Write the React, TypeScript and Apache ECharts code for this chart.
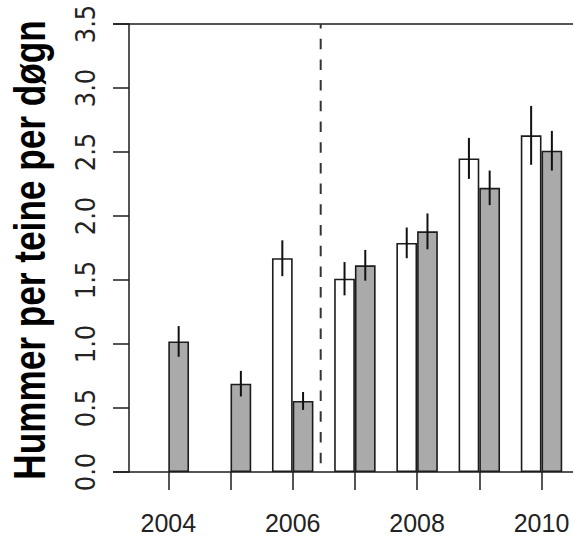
import React, { useEffect, useRef } from "react";
import * as echarts from "echarts";

// ---- data ----
const years = ["2004", "2005", "2006", "2007", "2008", "2009", "2010"];
const whiteValues: (number | null)[] = [null, null, 1.67, 1.51, 1.79, 2.45, 2.63];
const whiteErr: (number | null)[] = [null, null, 0.14, 0.13, 0.12, 0.16, 0.23];
const grayValues: number[] = [1.02, 0.69, 0.555, 1.615, 1.88, 2.22, 2.51];
const grayErr: number[] = [0.12, 0.1, 0.07, 0.12, 0.14, 0.135, 0.155];
const yMin = 0;
const yMax = 3.5;
const yStep = 0.5;
const dividerPosition = 2.45; // between 2006 and 2007 (category index units)
const yTitle = "Hummer per teine per døgn";

// ---- layout ----
const W = 573;
const H = 537;
const lineLeft = 113;
const axisX = 129;
const catLeft = 137.2;
const catWidth = 435.4;
const plotTop = 24;
const plotBottomY = 472;
const band = catWidth / years.length;

export default function App() {
  const ref = useRef<HTMLDivElement>(null);
  useEffect(() => {
    if (!ref.current) return;
    const chart = echarts.init(ref.current, undefined, { renderer: "svg" });

    const errData: number[][] = [];
    years.forEach((_, i) => {
      const wv = whiteValues[i];
      const we = whiteErr[i];
      if (wv != null && we != null) errData.push([i, wv - we, wv + we, -1]);
      errData.push([i, grayValues[i] - grayErr[i], grayValues[i] + grayErr[i], 1]);
    });

    const bMin = (lineLeft - catLeft) / band - 0.5;
    const bMax = (W - catLeft) / band - 0.5;
    const ink = "#1c1c1c";

    chart.setOption({
      animation: false,
      backgroundColor: "#ffffff",
      grid: [
        { left: catLeft, width: catWidth, top: plotTop, height: plotBottomY - plotTop },
        { left: lineLeft, right: 0, top: plotTop, height: plotBottomY - plotTop },
      ],
      xAxis: [
        {
          type: "category",
          gridIndex: 0,
          data: years,
          axisLine: { show: false },
          axisTick: { show: true, alignWithLabel: true, interval: 0, length: 18, lineStyle: { color: ink, width: 1.5 } },
          axisLabel: {
            interval: 1,
            margin: 38,
            fontFamily: "'Liberation Sans', Arial, sans-serif",
            fontSize: 25,
            color: "#222",
          },
          splitLine: { show: false },
        },
        {
          type: "value",
          gridIndex: 1,
          min: bMin,
          max: bMax,
          show: false,
          splitLine: { show: false },
        },
      ],
      yAxis: [
        {
          type: "value",
          gridIndex: 0,
          min: yMin,
          max: yMax,
          interval: yStep,
          offset: catLeft - axisX,
          axisLine: { show: true, lineStyle: { color: ink, width: 1.5 } },
          axisTick: { show: true, length: 16, lineStyle: { color: ink, width: 1.5 } },
          axisLabel: {
            rotate: 90,
            margin: 30,
            fontFamily: "'Liberation Sans Narrow', 'DejaVu Sans Condensed', 'Liberation Sans', sans-serif",
            fontSize: 27,
            color: "#222",
            formatter: (v: number) => v.toFixed(1),
          },
          splitLine: { show: false },
        },
        {
          type: "value",
          gridIndex: 1,
          min: yMin,
          max: yMax,
          interval: yMax - yMin,
          axisLine: { show: false },
          axisTick: { show: false },
          axisLabel: { show: false },
          splitLine: { show: true, lineStyle: { color: ink, width: 1.5 } },
        },
      ],
      series: [
        {
          type: "bar",
          xAxisIndex: 0,
          yAxisIndex: 0,
          data: whiteValues.map((v) => (v == null ? "-" : v)),
          barWidth: band / 3,
          barGap: "0%",
          itemStyle: { color: "#ffffff", borderColor: ink, borderWidth: 1.6 },
        },
        {
          type: "bar",
          xAxisIndex: 0,
          yAxisIndex: 0,
          data: grayValues,
          barWidth: band / 3,
          barGap: "0%",
          itemStyle: { color: "#aaaaaa", borderColor: ink, borderWidth: 1.6 },
        },
        {
          type: "custom",
          xAxisIndex: 0,
          yAxisIndex: 0,
          data: errData,
          z: 5,
          renderItem: (params: any, api: any) => {
            const idx = api.value(0);
            const lo = api.value(1);
            const hi = api.value(2);
            const side = api.value(3);
            const bw = api.size([1, 0])[0];
            const p1 = api.coord([idx, lo]);
            const p2 = api.coord([idx, hi]);
            const x = p1[0] + (side * bw) / 6;
            return {
              type: "line",
              shape: { x1: x, y1: p1[1], x2: x, y2: p2[1] },
              style: { stroke: "#111", lineWidth: 2 },
            };
          },
        },
        {
          type: "line",
          xAxisIndex: 1,
          yAxisIndex: 1,
          data: [
            [dividerPosition, yMax],
            [dividerPosition, yMin],
          ],
          symbol: "none",
          lineStyle: { color: "#333", width: 2, type: [10.5, 10.2], dashOffset: 5.5 },
          z: 6,
        },
      ],
      graphic: [
        {
          type: "text",
          x: 30,
          y: 250,
          rotation: Math.PI / 2,
          scaleX: 0.8,
          style: {
            text: yTitle,
            font: "bold 44px 'Liberation Sans', Arial, sans-serif",
            fill: "#000",
            textAlign: "center",
            textVerticalAlign: "middle",
            align: "center",
            verticalAlign: "middle",
          },
        },
      ],
    });
    return () => chart.dispose();
  }, []);

  return (
    <div
      ref={ref}
      style={{ position: "absolute", left: 0, top: 0, width: W, height: H, background: "#fff" }}
    />
  );
}
